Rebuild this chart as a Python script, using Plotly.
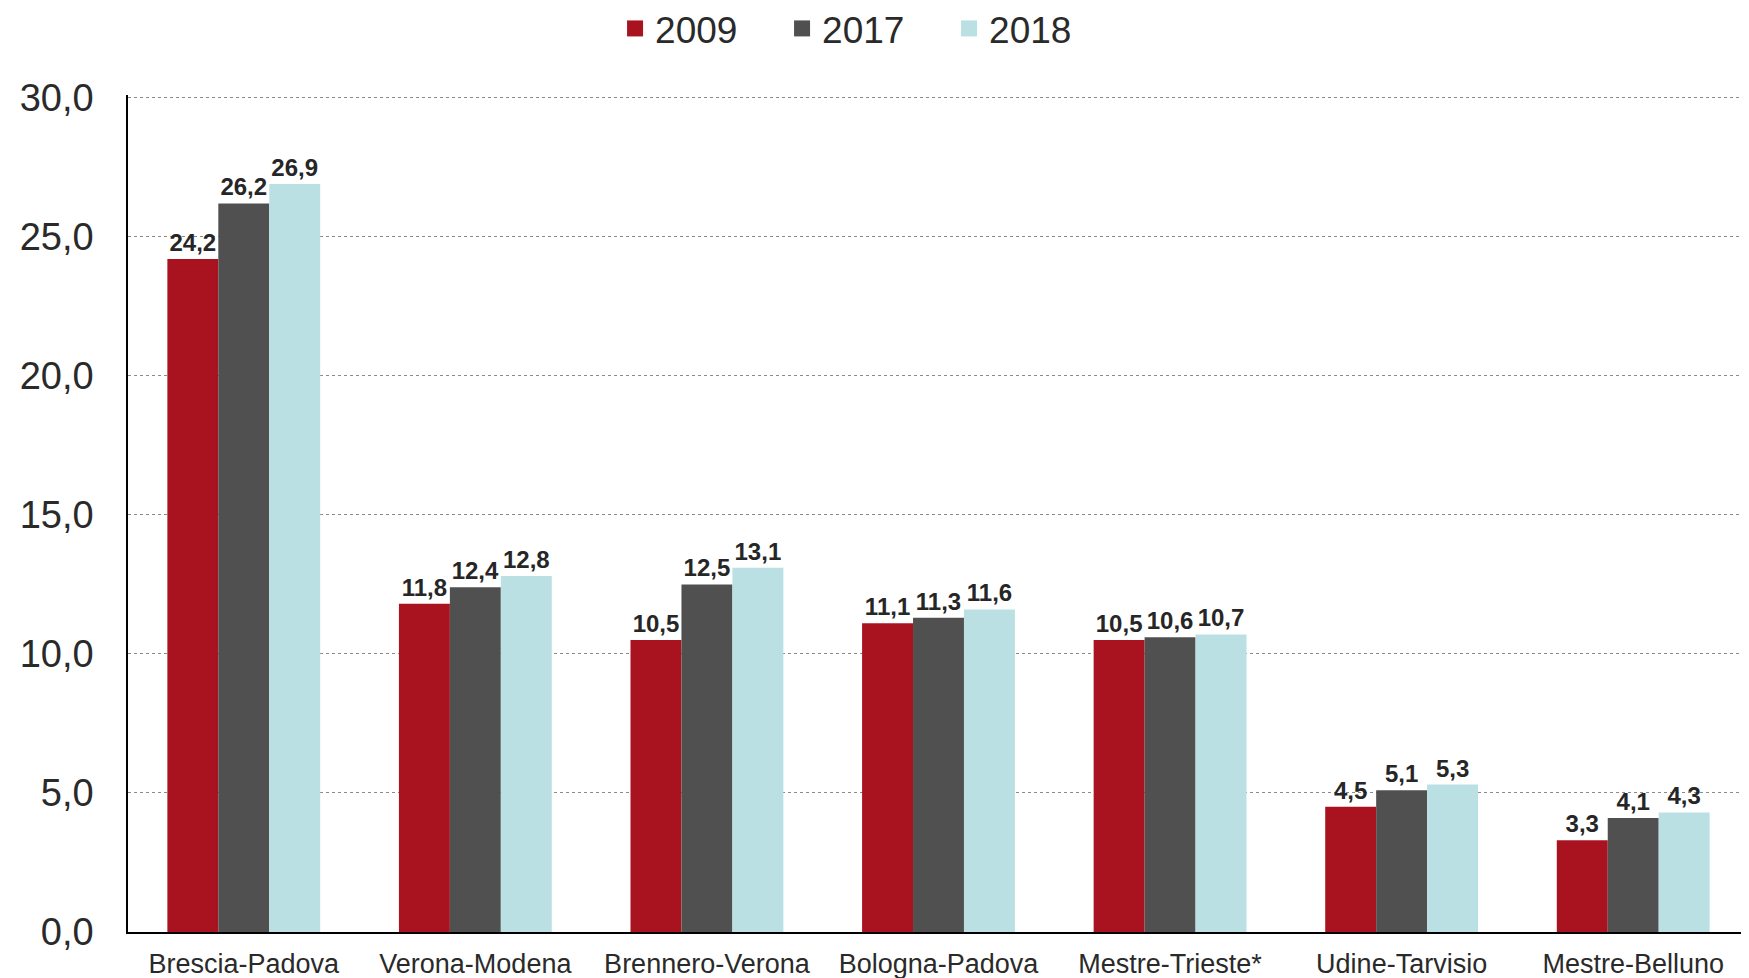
import plotly.graph_objects as go

categories = ["Brescia-Padova", "Verona-Modena", "Brennero-Verona", "Bologna-Padova",
              "Mestre-Trieste*", "Udine-Tarvisio", "Mestre-Belluno"]
v2009 = [24.2, 11.8, 10.5, 11.1, 10.5, 4.5, 3.3]
v2017 = [26.2, 12.4, 12.5, 11.3, 10.6, 5.1, 4.1]
v2018 = [26.9, 12.8, 13.1, 11.6, 10.7, 5.3, 4.3]
series = [("2009", v2009, "#A8131F"), ("2017", v2017, "#505050"), ("2018", v2018, "#BAE0E3")]
y_ticks = [0, 5, 10, 15, 20, 25, 30]

def fmt(v):
    return f"{v:.1f}".replace(".", ",")

fig = go.Figure()
for name, vals, col in series:
    fig.add_trace(go.Bar(
        name=name, x=categories, y=vals, marker=dict(color=col, line=dict(width=0)),
        text=[fmt(v) for v in vals], textposition="outside",
        textfont=dict(family="Liberation Sans", size=24, color="#262626", weight="bold"),
        cliponaxis=False, showlegend=False,
    ))
# legend entries with larger square swatches
for name, vals, col in series:
    fig.add_trace(go.Scatter(
        name=name, x=[None], y=[None], mode="markers",
        marker=dict(symbol="square", size=16, color=col), showlegend=True,
    ))

fig.update_layout(
    width=1741, height=970,
    margin=dict(l=120, r=0, t=87, b=46, autoexpand=False),
    paper_bgcolor="white", plot_bgcolor="white",
    barmode="group", bargap=0.34, bargroupgap=0,
    separators=",.",
    font=dict(family="Liberation Sans", color="#2a2a2a"),
    legend=dict(orientation="h", x=0.455, xanchor="center", y=1.079,
                yanchor="middle", font=dict(size=37, color="#2a2a2a"),
                entrywidth=122, entrywidthmode="pixels", itemwidth=30),
    showlegend=True,
)
fig.update_xaxes(
    showline=True, linecolor="black", linewidth=2, ticks="",
    tickfont=dict(family="Liberation Sans Narrow, Arial Narrow, Liberation Sans", size=27, color="#2a2a2a"),
    range=[-0.5, 6.5], automargin=False, ticklabelstandoff=7,
)
fig.update_yaxes(
    range=[0, 30.1], tickvals=y_ticks, tickformat=".1f",
    showline=True, linecolor="black", linewidth=1.5,
    showgrid=True, gridcolor="#8a8a8a", griddash="dot", gridwidth=1,
    zeroline=False, ticks="", ticklabelstandoff=25, automargin=False,
    tickfont=dict(family="Liberation Sans", size=38, color="#2a2a2a"),
)
fig.write_html("out.html")
